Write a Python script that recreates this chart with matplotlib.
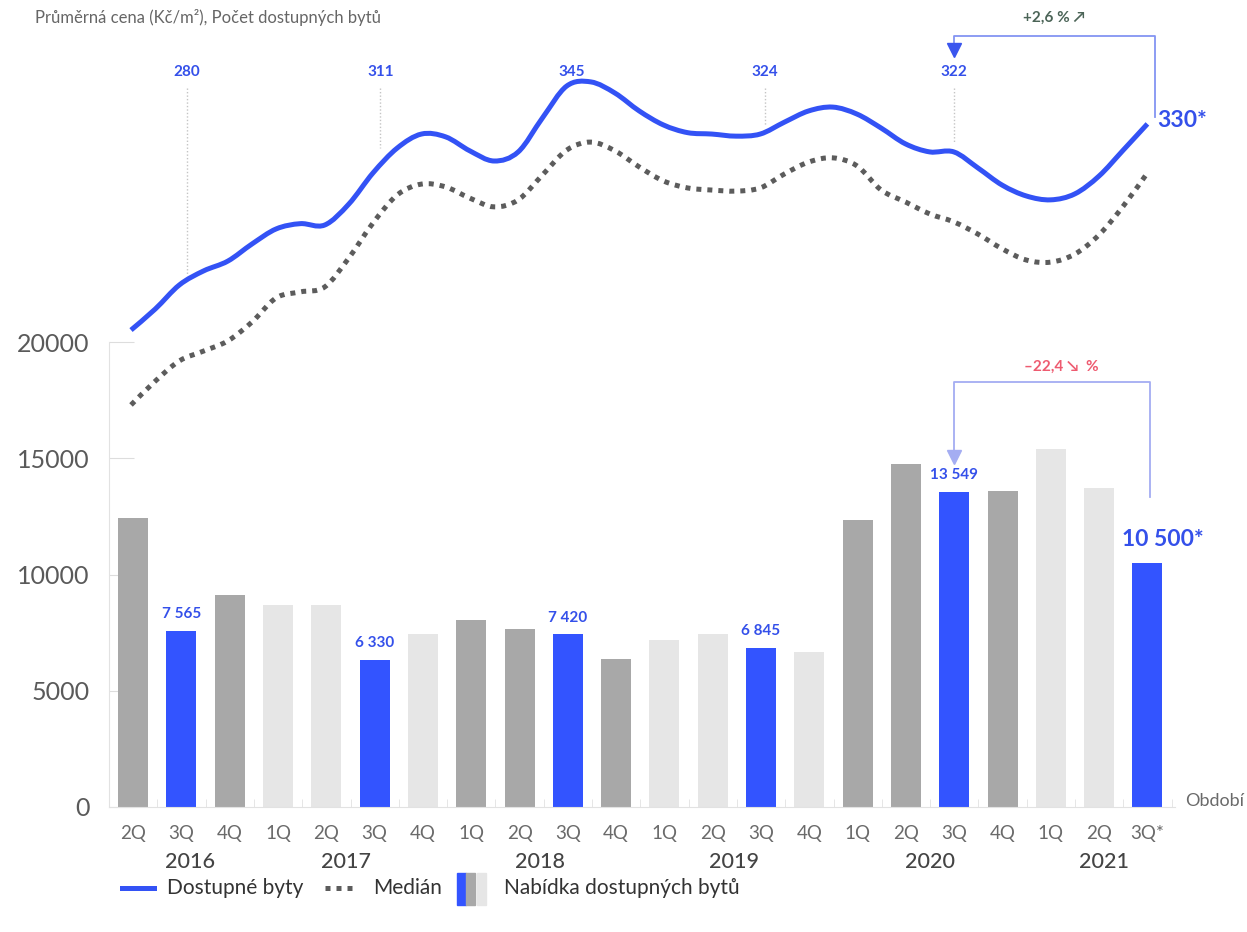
import numpy as np
import matplotlib
matplotlib.use("Agg")
import matplotlib.pyplot as plt
from matplotlib.path import Path
from matplotlib.patches import PathPatch, Rectangle
from matplotlib.lines import Line2D
import matplotlib.transforms as mtransforms

plt.rcParams["font.family"] = ["Lato", "DejaVu Sans"]

# --- data -----------------------------------------------------------------
QUARTERS = ["2Q", "3Q", "4Q", "1Q", "2Q", "3Q", "4Q", "1Q", "2Q", "3Q", "4Q",
            "1Q", "2Q", "3Q", "4Q", "1Q", "2Q", "3Q", "4Q", "1Q", "2Q", "3Q*"]
YEARS = ["2016", "2017", "2018", "2019", "2020", "2021"]
YEAR_POS = [1.18, 4.4, 8.42, 12.43, 16.5, 20.1]

OFFER = [12450, 7565, 9100, 8700, 8700, 6330, 7450, 8050, 7650, 7420, 6350,
         7200, 7450, 6845, 6650, 12350, 14750, 13549, 13600, 15400, 13700, 10500]
BAR_KIND = ["dark", "blue", "dark", "light", "light", "blue", "light", "dark", "dark",
            "blue", "dark", "light", "light", "blue", "light", "dark", "dark", "blue",
            "dark", "light", "light", "blue"]
BAR_LABELS = {1: "7 565", 5: "6 330", 9: "7 420", 13: "6 845", 17: "13 549"}

# price lines (relative scale as drawn), read every half quarter
LINE_T = [i / 2 for i in range(43)]
AFFORDABLE = [25.7, 31.7, 38.6, 42.6, 45.4, 50.3, 54.6, 56.1, 55.7, 61.7, 70.6,
              77.7, 81.7, 80.9, 76.9, 74.0, 76.6, 86.3, 95.4, 96.6, 93.4, 88.3,
              84.3, 82.1, 81.7, 81.1, 81.7, 85.1, 88.3, 89.4, 87.4, 83.4, 78.9,
              76.6, 76.6, 72.0, 67.1, 64.0, 62.9, 64.6, 69.7, 77.1, 84.6]
MEDIAN = [4.3, 11.1, 16.9, 19.7, 22.6, 28.0, 34.9, 36.6, 38.0, 46.3, 56.3,
          64.3, 67.4, 66.6, 63.4, 60.9, 62.9, 70.0, 77.1, 79.4, 76.9, 72.3,
          68.3, 66.3, 65.7, 65.4, 66.3, 70.3, 73.7, 74.9, 72.6, 65.7, 62.3,
          58.9, 56.6, 53.1, 48.9, 45.7, 45.1, 47.4, 52.9, 61.1, 70.6]
PRICE_LABELS = ["280", "311", "345", "324", "322"]
PRICE_LABEL_POS = [1.15, 5.15, 9.1, 13.1, 17.0]
GUIDE_ENDS = [41.4, 77.7, None, 84.3, 79.1]
LAST_PRICE = "330*"

COLORS = {"blue": "#3354ff", "dark": "#a8a8a8", "light": "#e6e6e6"}
BLUE_TEXT = "#3450ea"

W, H = 1247, 932


def fx(px):
    return px / W


def fy(py):
    return 1 - py / H


def smooth_path(xs, ys):
    pts = np.column_stack([xs, ys]).astype(float)
    n = len(pts)
    verts = [pts[0]]
    codes = [Path.MOVETO]
    for i in range(n - 1):
        p0 = pts[max(i - 1, 0)]
        p1 = pts[i]
        p2 = pts[i + 1]
        p3 = pts[min(i + 2, n - 1)]
        verts += [p1 + (p2 - p0) / 6, p2 - (p3 - p1) / 6, p2]
        codes += [Path.CURVE4] * 3
    return Path(verts, codes)


fig = plt.figure(figsize=(12.47, 9.32), dpi=100)
x = np.arange(len(OFFER))

# --- bars -------------------------------------------------------------------
ax = fig.add_axes([fx(109), fy(807), fx(1175) - fx(109), fy(342) - fy(807)])
ax.set_xlim(-0.455, 21.57)
ax.set_ylim(0, 20000)
ax.bar(x, OFFER, width=0.62, color=[COLORS[k] for k in BAR_KIND], zorder=2)

for i, txt in BAR_LABELS.items():
    ax.annotate(txt, (i, OFFER[i]), xytext=(0, 7), textcoords="offset points",
                ha="center", va="bottom", fontsize=11, fontweight="bold", color=BLUE_TEXT)
ax.annotate("10 500*", (21, OFFER[21]), xytext=(11, 9), textcoords="offset points",
            ha="center", va="bottom", fontsize=16.5, fontweight="bold", color=BLUE_TEXT)

for side in ["top", "right"]:
    ax.spines[side].set_visible(False)
ax.spines["left"].set_color("#e2e2e2")
ax.spines["bottom"].set_color("#e2e2e2")
ax.set_yticks([0, 5000, 10000, 15000, 20000])
ax.tick_params(axis="y", direction="in", length=18, color="#dddddd", pad=14,
               labelsize=18, labelcolor="#5a5a5a")
ax.set_xticks(x, QUARTERS)
ax.set_xticks(np.arange(-0.5, 21.6, 1), minor=True)
ax.tick_params(axis="x", which="major", length=0, pad=13, labelsize=13.5, labelcolor="#6a6a6a")
ax.tick_params(axis="x", which="minor", direction="in", length=6, color="#e2e2e2")

trans = mtransforms.blended_transform_factory(ax.transData, ax.transAxes)
for pos, yr in zip(YEAR_POS, YEARS):
    ax.text(pos, -0.118, yr, transform=trans, ha="center", va="center",
            fontsize=15.5, color="#444444", fontweight="medium")
ax.text(1.0095, 0.013, "Období", transform=ax.transAxes, ha="left", va="center",
        fontsize=13, color="#6a6a6a")

# bracket between 3Q 2020 and 3Q 2021 offer
br_col = "#a4adf2"
ax.plot([21.05, 21.05, 17.0, 17.0], [13330, 18270, 18270, 15300], color=br_col,
        lw=1.3, clip_on=False, zorder=3)
ax.plot([17.0], [15050], marker="v", ms=10, color=br_col, mec=br_col, clip_on=False, zorder=3)
ax.text(19.22, 18950, "–22,4 ↘  %", ha="center", va="center", fontsize=11,
        fontweight="bold", color="#ee5b70")

# --- price lines --------------------------------------------------------------
axt = fig.add_axes([fx(109), fy(420), fx(1175) - fx(109), fy(70) - fy(420)])
axt.set_xlim(-0.455, 21.57)
axt.set_ylim(0, 100)
axt.axis("off")

axt.add_patch(PathPatch(smooth_path(LINE_T, MEDIAN), fill=False, edgecolor="#5c5c5c", lw=3.6,
                        linestyle=(0, (1.0, 1.2)), capstyle="butt", clip_on=False, zorder=3))
axt.add_patch(PathPatch(smooth_path(LINE_T, AFFORDABLE), fill=False, edgecolor="#3352f5",
                        lw=3.6, capstyle="butt", clip_on=False, zorder=4))

for pos, txt, yend in zip(PRICE_LABEL_POS, PRICE_LABELS, GUIDE_ENDS):
    axt.text(pos, 99.4, txt, ha="center", va="center", fontsize=11,
             fontweight="bold", color=BLUE_TEXT)
    if yend is not None:
        axt.plot([pos, pos], [94.9, yend], color="#c4c4c4", lw=1,
                 linestyle=(0, (1, 1.5)), zorder=1)

axt.text(21.2, 85.5, LAST_PRICE, ha="left", va="center", fontsize=16.5,
         fontweight="bold", color=BLUE_TEXT)

# bracket between 3Q 2020 and 3Q 2021 price
axt.plot([21.15, 21.15, 17.0, 17.0], [86.5, 109.7, 109.7, 107.0], color="#8494f2",
         lw=1.3, clip_on=False, zorder=3)
axt.plot([17.0], [105.6], marker="v", ms=10, color="#3a55ee", clip_on=False, zorder=3)
axt.text(19.08, 114.9, "+2,6 % ↗", ha="center", va="center", fontsize=11,
         fontweight="bold", color="#4b6457", clip_on=False)

# --- title & legend ---------------------------------------------------------------
fig.text(fx(35), fy(18), "Průměrná cena (Kč/m²), Počet dostupných bytů", ha="left",
         va="center", fontsize=12, color="#666666")

fig.add_artist(Line2D([fx(122), fx(154)], [fy(888)] * 2, color="#3352f5", lw=3.6))
fig.text(fx(167), fy(888), "Dostupné byty", ha="left", va="center", fontsize=15,
         color="#333333")
fig.add_artist(Line2D([fx(325), fx(354)], [fy(888)] * 2, color="#5c5c5c", lw=3.6,
                      linestyle=(0, (1.0, 1.2)), dash_capstyle="butt"))
fig.text(fx(373), fy(888), "Medián", ha="left", va="center", fontsize=15,
         color="#333333")
for x0, kind in [(457, "blue"), (466, "dark"), (477, "light")]:
    fig.add_artist(Rectangle((fx(x0), fy(905)), fx(9), fy(873) - fy(905),
                             color=COLORS[kind], transform=fig.transFigure))
fig.text(fx(504), fy(888), "Nabídka dostupných bytů", ha="left", va="center", fontsize=15,
         color="#333333")

fig.savefig("out.png", dpi=100)
